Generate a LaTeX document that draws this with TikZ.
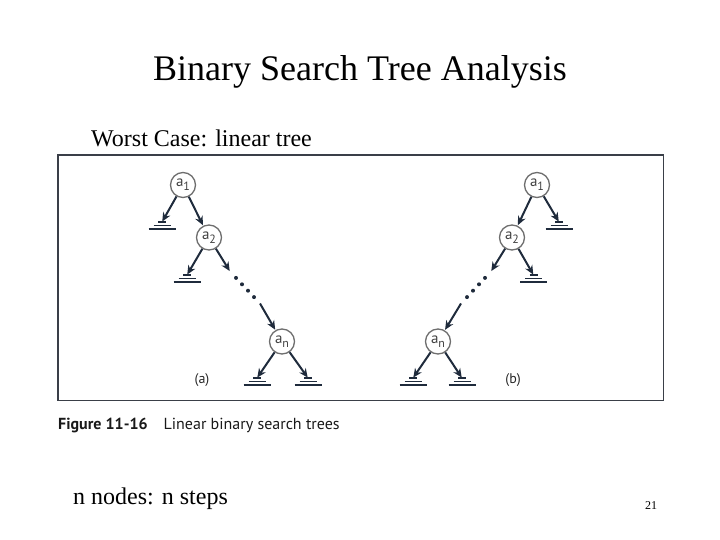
\documentclass[tikz,border=0pt]{standalone}
\usepackage{fontspec}
\setmainfont{Liberation Serif}
\newfontfamily\figfont{PT Sans}
\usetikzlibrary{arrows.meta, positioning, calc}
\definecolor{navy}{HTML}{1F2B3C}
\definecolor{rahmen}{HTML}{3A3F48}
\definecolor{ring}{HTML}{6E6E6E}
\newcommand\lbl[1]{a\raisebox{-4pt}{\fontsize{12}{12}\selectfont #1}}
\tikzset{
  vertex/.style  = {circle, draw=ring, line width=1.3pt, minimum size=25pt, inner sep=0pt,
                    font=\figfont\fontsize{15}{15}\selectfont, text=gray!50!black},
  link/.style    = {-{Stealth[length=9pt,width=8pt]}, line width=2pt, draw=navy, shorten >=0.5pt},
  tag/.style     = {font=\figfont\fontsize{14}{14}\selectfont, text=gray!30!black},
  pics/nilref/.style = {code={
    \draw[line width=1.7pt, navy] (-4,0) -- (4,0) (-8.5,3.5) -- (8.5,3.5) (-13.5,7) -- (13.5,7);
  }}
}

\begin{document}
\begin{tikzpicture}[x=1pt, y=-1pt]
  \useasboundingbox (0,0) rectangle (720,540);

  \node[anchor=base, font=\fontsize{36}{36}\selectfont] (title) at (360,81) {Binary Search Tree Analysis};
  \node[anchor=base west, inner sep=0pt, font=\fontsize{24}{24}\selectfont] (worst) at (91,147) {Worst Case: linear tree};

  % figure frame
  \draw[rahmen, line width=1.8pt] (58,155) rectangle (663.5,400.5);

  % tree (a): right spine
  \node[vertex] (a1) at (183,185)   {\lbl{1}};
  \node[vertex] (a2) at (209,237.5) {\lbl{2}};
  \node[vertex] (an) at (282,341.5) {\lbl{n}};
  \coordinate (a1l) at (162,222);
  \coordinate (a2l) at (187,275);
  \coordinate (anl) at (257,378);
  \coordinate (anr) at (308,378);
  \coordinate (ad1) at (230,271.5);
  \coordinate (ad2) at (260,303.5);
  \foreach \g in {a1l, a2l, anl, anr} \pic at (\g) {nilref};

  \draw[link] (a1) -- (a1l);
  \draw[link] (a1) -- (a2);
  \draw[link] (a2) -- (a2l);
  \draw[link] (a2) -- (ad1);
  \foreach \t in {0.2,0.4,0.6,0.8} \fill[navy] ($(ad1)!\t!(ad2)$) circle (2pt);
  \draw[link] (ad2) -- (an);
  \draw[link] (an) -- (anl);
  \draw[link] (an) -- (anr);
  \node[tag] (capa) at (202,380) {(a)};

  % tree (b): left spine
  \node[vertex] (b1) at (537,185)   {\lbl{1}};
  \node[vertex] (b2) at (512,237.5) {\lbl{2}};
  \node[vertex] (bn) at (438,341.5) {\lbl{n}};
  \coordinate (b1r) at (559,222);
  \coordinate (b2r) at (533.5,275);
  \coordinate (bnl) at (413,378);
  \coordinate (bnr) at (462,378);
  \coordinate (bd1) at (491,271.5);
  \coordinate (bd2) at (461,303.5);
  \foreach \g in {b1r, b2r, bnl, bnr} \pic at (\g) {nilref};

  \draw[link] (b1) -- (b1r);
  \draw[link] (b1) -- (b2);
  \draw[link] (b2) -- (b2r);
  \draw[link] (b2) -- (bd1);
  \foreach \t in {0.2,0.4,0.6,0.8} \fill[navy] ($(bd1)!\t!(bd2)$) circle (2pt);
  \draw[link] (bd2) -- (bn);
  \draw[link] (bn) -- (bnl);
  \draw[link] (bn) -- (bnr);
  \node[tag] (capb) at (513,380) {(b)};

  % caption
  \node[anchor=base west, inner sep=0pt, font=\figfont\fontsize{16}{16}\selectfont, text=gray!20!black] (fig) at (58,429)
    {\textbf{Figure 11-16}\hspace{16pt}Linear binary search trees};

  \node[anchor=base west, inner sep=0pt, font=\fontsize{24}{24}\selectfont] (steps) at (73,504) {n nodes: n steps};
  \node[anchor=base west, inner sep=0pt, font=\fontsize{12}{12}\selectfont] (page) at (645,509) {21};
\end{tikzpicture}
\end{document}
